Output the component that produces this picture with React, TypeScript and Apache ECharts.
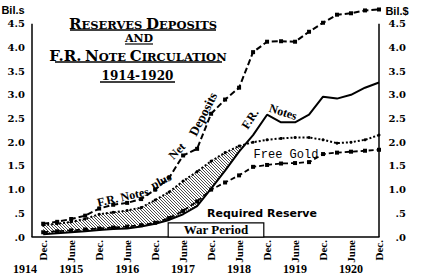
import React, { useEffect, useRef } from 'react';
import * as echarts from 'echarts';

// months since Dec. 1914 (quarterly readings)
const months = [0, 3, 6, 9, 12, 15, 18, 21, 24, 27, 30, 33, 36, 39, 42, 45, 48, 51, 54, 57, 60, 63, 66, 69, 72];
// Bil. $
const notesPlusNetDeposits = [0.28, 0.32, 0.38, 0.45, 0.6, 0.68, 0.72, 0.8, 1.0, 1.25, 1.72, 1.86, 2.6, 2.9, 3.15, 3.9, 4.12, 4.13, 4.12, 4.33, 4.52, 4.69, 4.72, 4.78, 4.8];
const frNotes = [0.06, 0.08, 0.1, 0.12, 0.15, 0.17, 0.18, 0.22, 0.28, 0.36, 0.48, 0.65, 1.02, 1.4, 1.8, 2.15, 2.58, 2.42, 2.42, 2.58, 2.96, 2.92, 3.0, 3.15, 3.26];
const totalReserves = [0.25, 0.28, 0.32, 0.38, 0.48, 0.52, 0.56, 0.62, 0.78, 0.95, 1.18, 1.38, 1.6, 1.78, 1.92, 2.0, 2.05, 2.08, 2.1, 2.1, 2.05, 1.98, 2.0, 2.05, 2.15];
const requiredReserve = [0.1, 0.12, 0.14, 0.16, 0.18, 0.2, 0.22, 0.25, 0.3, 0.4, 0.55, 0.75, 1.0, 1.15, 1.3, 1.48, 1.52, 1.55, 1.56, 1.58, 1.75, 1.78, 1.8, 1.82, 1.84];

const halfYearTicks = [0, 6, 12, 18, 24, 30, 36, 42, 48, 54, 60, 66, 72];
const X_MIN = -2.4;
const X_MAX = 72;
const yearTickMonths = [X_MIN, 6, 18, 30, 42, 54, 66];
const yearLabels = ['1914', '1915', '1916', '1917', '1918', '1919', '1920'];
const warPeriod = [26.8, 47.3];
const warBoxTop = 0.3;
const axisTop = 4.5;

const pairs = (ys: number[]) => months.map((m, i) => [m, ys[i]]);

// outline of the area where reserves exceed F.R. notes
function buildHatch() {
  const upper: number[][] = [];
  const lower: number[][] = [];
  for (let i = 0; i < months.length; i++) {
    const d = totalReserves[i] - frNotes[i];
    if (d >= 0) {
      upper.push([months[i], totalReserves[i]]);
      lower.push([months[i], frNotes[i]]);
    } else {
      const dPrev = totalReserves[i - 1] - frNotes[i - 1];
      const t = dPrev / (dPrev - d);
      const xm = months[i - 1] + t * (months[i] - months[i - 1]);
      const ym = frNotes[i - 1] + t * (frNotes[i] - frNotes[i - 1]);
      upper.push([xm, ym]);
      break;
    }
  }
  return upper.concat(lower.reverse());
}

function hatchPattern() {
  const c = document.createElement('canvas');
  c.width = 3;
  c.height = 3;
  const ctx = c.getContext('2d')!;
  ctx.strokeStyle = '#111';
  ctx.lineWidth = 0.75;
  ctx.beginPath();
  ctx.moveTo(-1, -1);
  ctx.lineTo(4, 4);
  ctx.stroke();
  return c;
}

const SERIF = 'Liberation Serif';
const TSERIF = 'DejaVu Serif';

export default function App() {
  const ref = useRef<HTMLDivElement>(null);
  useEffect(() => {
    const chart = echarts.init(ref.current!, null, { renderer: 'svg' });
    const hatchOutline = buildHatch();
    const pattern = { image: hatchPattern(), repeat: 'repeat', imageWidth: 3, imageHeight: 3 };
    const yFmt = (v: number) => {
      if (v > axisTop + 0.01) return '';
      if (v === 0) return '.0';
      if (v < 1) return '.5';
      return v.toFixed(1);
    };
    const yLabel = { color: '#000', fontFamily: TSERIF, fontWeight: 'bold', fontSize: 10 };
    const txt = (text: string, x: number, y: number, rot: number, extra: any = {}) => ({
      type: 'text',
      x,
      y,
      rotation: rot,
      silent: true,
      z: 10,
      style: {
        text,
        fill: '#000',
        fontFamily: SERIF,
        fontWeight: 'bold',
        fontSize: 12,
        align: 'center',
        verticalAlign: 'middle',
        textAlign: 'center',
        textVerticalAlign: 'middle',
        ...extra,
      },
    });
    const titleRich = {
      b: { fontFamily: TSERIF, fontWeight: 'bold', fontSize: 15, verticalAlign: 'bottom', lineHeight: 16 },
      s: { fontFamily: TSERIF, fontWeight: 'bold', fontSize: 11.5, verticalAlign: 'bottom', lineHeight: 16 },
    };
    const uline = (x1: number, x2: number, y: number, w = 1.3) => ({
      type: 'line',
      silent: true,
      shape: { x1, y1: y, x2, y2: y },
      style: { stroke: '#000', lineWidth: w },
    });

    const option: any = {
      animation: false,
      backgroundColor: '#fff',
      grid: { left: 32, right: 43, top: 0, bottom: 40 },
      xAxis: [
        {
          type: 'value',
          min: X_MIN,
          max: X_MAX,
          axisLine: { show: true, onZero: false, lineStyle: { color: '#000', width: 1.5 } },
          axisTick: { show: false },
          splitLine: { show: false },
          axisLabel: {
            customValues: halfYearTicks,
            formatter: (v: number) => (v % 12 === 0 ? 'Dec.' : 'June'),
            rotate: 90,
            margin: 3,
            color: '#000',
            fontFamily: SERIF,
            fontWeight: 'bold',
            fontSize: 11,
          },
        },
        {
          type: 'value',
          min: X_MIN,
          max: X_MAX,
          position: 'bottom',
          axisLine: { show: false },
          axisTick: { show: false },
          splitLine: { show: false },
          axisLabel: {
            customValues: yearTickMonths,
            showMinLabel: true,
            formatter: (v: number) => {
              const i = yearTickMonths.findIndex((m) => Math.abs(m - v) < 0.01);
              if (i < 0) return '';
              return i === 0 ? `{l|${yearLabels[i]}}` : yearLabels[i];
            },
            rich: { l: { padding: [0, 14, 0, 0], fontFamily: SERIF, fontWeight: 'bold', fontSize: 12, color: '#000' } },
            margin: 26,
            color: '#000',
            fontFamily: SERIF,
            fontWeight: 'bold',
            fontSize: 12,
          },
        },
      ],
      yAxis: [
        {
          type: 'value',
          min: 0,
          max: 5,
          interval: 0.5,
          axisLine: { show: false },
          axisTick: { show: false },
          splitLine: { show: false },
          axisLabel: { ...yLabel, formatter: yFmt, margin: 7 },
        },
        {
          type: 'value',
          min: 0,
          max: 5,
          interval: 0.5,
          position: 'right',
          axisLine: { show: false },
          axisTick: { show: false },
          splitLine: { show: false },
          axisLabel: { ...yLabel, formatter: yFmt, margin: 27, align: 'right', padding: [6, 0, 0, 0] },
        },
      ],
      series: [
        {
          type: 'custom',
          data: [[0, 0]],
          silent: true,
          z: 1,
          renderItem: (params: any, api: any) => {
            if (params.dataIndex !== 0) return null;
            const points = hatchOutline.map((p) => api.coord(p));
            return {
              type: 'polygon',
              shape: { points },
              style: { fill: pattern, stroke: 'none' },
            };
          },
        },
        {
          name: 'Required Reserve',
          type: 'line',
          data: pairs(requiredReserve),
          symbol: 'rect',
          symbolSize: 4,
          itemStyle: { color: '#000' },
          lineStyle: { color: '#000', width: 1.8, type: [5, 3] },
          z: 3,
        },
        {
          name: 'Reserves',
          type: 'line',
          data: pairs(totalReserves),
          symbol: 'circle',
          symbolSize: 3,
          itemStyle: { color: '#000' },
          lineStyle: { color: '#000', width: 2, type: [2, 2] },
          z: 3,
        },
        {
          name: 'F.R. Notes',
          type: 'line',
          data: pairs(frNotes),
          symbol: 'none',
          lineStyle: { color: '#000', width: 2 },
          z: 4,
          markArea: {
            silent: true,
            itemStyle: { color: '#fff', borderColor: '#000', borderWidth: 1.2 },
            label: {
              show: true,
              position: 'inside',
              color: '#000',
              fontFamily: SERIF,
              fontWeight: 'bold',
              fontSize: 13,
              formatter: 'War Period',
            },
            data: [[{ coord: [warPeriod[0], 0] }, { coord: [warPeriod[1], warBoxTop] }]],
          },
          markLine: {
            silent: true,
            symbol: 'none',
            label: { show: false },
            lineStyle: { color: '#000', width: 1.5, type: 'solid' },
            data: [
              [{ coord: [X_MIN, 0] }, { coord: [X_MIN, axisTop] }],
              [{ coord: [X_MAX, 0] }, { coord: [X_MAX, axisTop] }],
            ],
          },
        },
        {
          name: 'F.R. Notes plus Net Deposits',
          type: 'line',
          data: pairs(notesPlusNetDeposits),
          symbol: 'rect',
          symbolSize: 4,
          itemStyle: { color: '#000' },
          lineStyle: { color: '#000', width: 2, type: [6, 3] },
          z: 3,
        },
      ],
      graphic: [
        {
          type: 'text',
          x: 143,
          y: 23,
          silent: true,
          style: {
            text: '{b|R}{s|ESERVES} {b|D}{s|EPOSITS}',
            rich: titleRich,
            fontFamily: TSERIF,
            fontSize: 11.5,
            fill: '#000',
            align: 'center',
            verticalAlign: 'middle',
          },
        },
        txt('AND', 139, 38.5, 0, { fontFamily: TSERIF, fontSize: 11 }),
        {
          type: 'text',
          x: 138,
          y: 55,
          silent: true,
          style: {
            text: '{b|F.R.} {b|N}{s|OTE} {b|C}{s|IRCULATION}',
            rich: titleRich,
            fontFamily: TSERIF,
            fontSize: 11.5,
            fill: '#000',
            align: 'center',
            verticalAlign: 'middle',
          },
        },
        txt('1914-1920', 137.5, 75.5, 0, { fontFamily: TSERIF, fontSize: 12 }),
        uline(70, 216, 30, 1.6),
        uline(125, 153, 44, 1.2),
        uline(55, 222, 62, 1.6),
        uline(100, 175, 82, 1.4),
        txt('Bil.s', 13, 10, 0, { fontFamily: 'Liberation Sans', fontSize: 11 }),
        txt('Bil.$', 397, 11, 0, { fontFamily: 'Liberation Sans', fontSize: 11 }),
        txt('F.R. Notes', 123, 197, 0.22),
        txt('plus', 161, 181, 0.5),
        txt('Net', 177, 151, 0.8),
        txt('Deposits', 203, 114, 1.1, { fontSize: 13 }),
        txt('F.R.', 250, 119, 1.0),
        txt('Notes', 283, 112, -0.3),
        txt('Free Gold', 286, 155, 0, { fontFamily: 'Liberation Mono', fontWeight: 'normal', fontSize: 12 }),
        txt('Required Reserve', 262, 213, 0, { fontFamily: 'DejaVu Sans', fontSize: 11 }),
      ],
    };
    chart.setOption(option);
    return () => chart.dispose();
  }, []);
  return (
    <div
      ref={ref}
      style={{ position: 'fixed', left: 0, top: 0, width: 422, height: 277, background: '#fff' }}
    />
  );
}
